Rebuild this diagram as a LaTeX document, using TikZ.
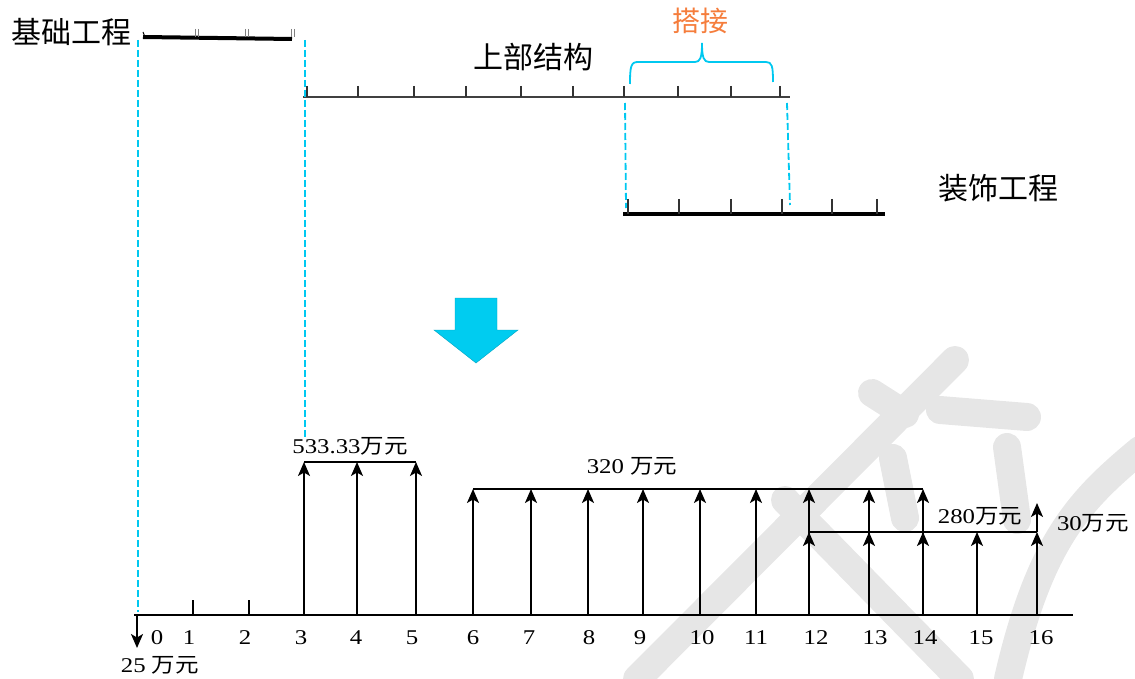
\documentclass[tikz,border=0pt]{standalone}
\usepackage{fontspec}
\setmainfont[FakeStretch=1.18]{Liberation Serif}
\newfontfamily\cjk{Noto Sans CJK SC}
\newfontfamily\cjkw[FakeStretch=1.12]{Noto Sans CJK SC}
\usetikzlibrary{arrows.meta}
\definecolor{cyanl}{RGB}{0,200,240}
\definecolor{arrowblue}{RGB}{0,204,240}
\definecolor{orangel}{RGB}{245,125,60}
\definecolor{wm}{RGB}{230,230,230}
\newcommand\WanYuan{{\cjkw\fontsize{21}{21}\selectfont 万元}}
\begin{document}
\begin{tikzpicture}[x=1pt,y=-1pt,
  bigcn/.style={font=\cjk\fontsize{30}{30}\selectfont, inner sep=0},
  lab/.style={font=\fontsize{21}{21}\selectfont, inner sep=0},
  cflow/.style={line width=1.8pt, -{Stealth[length=14pt,width=12pt,inset=3.5pt]}},
  dashcyan/.style={cyanl, line width=1.8pt, dash pattern=on 7pt off 3pt},
  bar/.style={line width=4pt},
  tickmark/.style={line width=2pt, black!80},
  wmstroke/.style={wm, line width=28pt, line cap=round}]
\useasboundingbox (0,0) rectangle (1135,679);
% watermark
\draw[wmstroke] (955,360) -- (637,679);
\draw[wmstroke] (785,500) -- (960,679);
\draw[wmstroke] (872,393) -- (905,414);
\draw[wmstroke] (940,410) -- (1027,417);
\draw[wmstroke] (893,458) -- (905,518);
\draw[wmstroke] (1007,447) -- (1017,520);
\draw[wmstroke] (1140,450) .. controls (1080,500) and (1040,540) .. (1008,679);
% ---------- top: schedule bars ----------
\node[bigcn] (jc) at (71,32) {基础工程};
\coordinate (jcA) at (143,37);
\coordinate (jcB) at (292,39);
\draw[bar] (jcA) -- (jcB);
\draw[line width=1pt] (143,32) -- (145,37);
\foreach \x in {195,245,291}{\draw[gray, line width=1pt] (\x,29) -- (\x,37); \draw[gray, line width=1pt] (\x+3,29) -- (\x+3,37);}
\node[bigcn] (sb) at (533,57) {上部结构};
\coordinate (sbA) at (303,97);
\coordinate (sbB) at (790,97);
\draw[line width=2.8pt, black!75] (sbA) -- (sbB);
\foreach \x in {307,358,414,466,521,573,624,678,731,780}{\draw[tickmark] (\x,86) -- (\x,97);}
% brace
\draw[cyanl, line width=1.8pt] (630,84) .. controls (630,66) and (631,62) .. (638,62) -- (695,62) .. controls (700,62) and (702,58) .. (702,43)
  .. controls (702,58) and (704,62) .. (709,62) -- (766,62) .. controls (772,62) and (773,66) .. (773,82);
\node[font=\cjk\fontsize{28}{28}\selectfont, text=orangel, inner sep=0] (dj) at (700,21) {搭接};
\node[bigcn] (zs) at (998,188) {装饰工程};
\coordinate (zsA) at (623,214);
\coordinate (zsB) at (885,214);
\draw[bar] (zsA) -- (zsB);
\foreach \x in {628,679,731,782,832,877}{\draw[tickmark] (\x,199) -- (\x,214);}
% cyan dashed guides
\coordinate (g1t) at (138,40);
\coordinate (g1b) at (138,612);
\coordinate (g2t) at (305,40);
\coordinate (g2b) at (305,438);
\coordinate (g3t) at (625,103);
\coordinate (g3b) at (626,208);
\coordinate (g4t) at (787,103);
\coordinate (g4b) at (790,205);
\draw[dashcyan] (g1t) -- (g1b);
\draw[dashcyan] (g2t) -- (g2b);
\draw[dashcyan] (g3t) -- (g3b);
\draw[dashcyan] (g4t) -- (g4b);
% big blue arrow
\fill[arrowblue, draw=arrowblue!80!black, line width=0.4pt] (455,298) -- (497,298) -- (497,330) -- (518,330) -- (476,363) -- (434,330) -- (455,330) -- cycle;
% ---------- bottom: cash flow ----------
\foreach \n/\x in {0/138,1/193,2/249,3/304,4/357,5/416,6/473,7/531,8/588,9/643,10/700,11/756,12/809,13/869,14/923,15/977,16/1037}
  {\coordinate (b\n) at (\x,615);}
\coordinate (axL) at (134,615);
\coordinate (axR) at (1073,615);
\coordinate (h1) at (0,462);
\coordinate (h2) at (0,489);
\coordinate (h3) at (0,532);
\coordinate (h4) at (0,503);
\coordinate (dn) at (137,648);
\draw[line width=2pt] (axL) -- (axR);
\draw[cflow] (b0 -| dn) -- (dn);
\draw[line width=1.8pt] (b1) -- ++(0,-15);
\draw[line width=1.8pt] (b2) -- ++(0,-15);
\foreach \n in {3,4,5}{\draw[cflow] (b\n) -- (b\n |- h1);}
\draw[line width=1.6pt] (b3 |- h1) -- (b5 |- h1);
\foreach \n in {6,...,14}{\draw[cflow] (b\n) -- (b\n |- h2);}
\draw[line width=1.6pt] (b6 |- h2) -- (b14 |- h2);
\foreach \n in {12,...,16}{\draw[cflow] (b\n) -- (b\n |- h3);}
\draw[line width=1.6pt] (b12 |- h3) -- (b16 |- h3);
\draw[cflow] (b16 |- h3) -- (b16 |- h4);
% axis labels
\foreach \n/\x in {0/157,1/189,2/245,3/301,4/356,5/412,6/473,7/529,8/589,9/640,10/702,11/756,12/816,13/875,14/925,15/981,16/1041}
  {\node[lab] (l\n) at (\x,638) {\n};}
\node[lab] (m25) at (160,665) {25 \WanYuan};
\node[lab] (m533) at (350,446) {533.33\WanYuan};
\node[lab] (m320) at (632,466) {320 \WanYuan};
\node[lab] (m280) at (980,516) {280\WanYuan};
\node[lab] (m30) at (1093,523) {30\WanYuan};
\end{tikzpicture}
\end{document}
